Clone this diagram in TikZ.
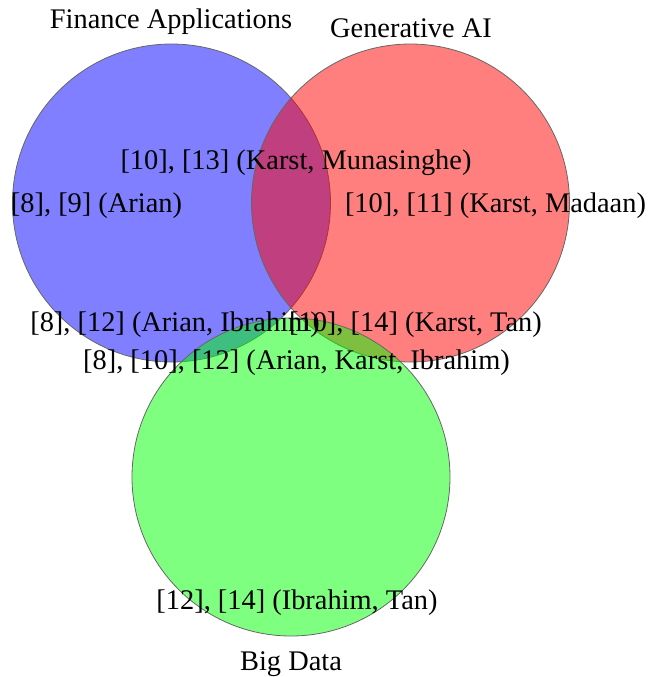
\documentclass[tikz,border=0pt]{standalone}
\usepackage{fontspec}
\setmainfont{Liberation Serif}
\usepackage{tikz}
\colorlet{setblue}{blue}
\colorlet{setred}{red}
\colorlet{setgreen}{green}

\begin{document}
\begin{tikzpicture}[x=0.5pt, y=-0.5pt,
		vset/.style = {fill opacity=0.5, draw=black!60, line width=0.4pt},
		lab/.style = {font=\fontsize{14.2}{16}\selectfont, inner sep=0pt}]
		\useasboundingbox (0,0) rectangle (649,677);
		% the three sets
		\filldraw[vset, fill=setblue] (171.5,203) circle (159);
		\filldraw[vset, fill=setred] (410.5,203) circle (159);
		\filldraw[vset, fill=setgreen] (291,477) circle (159);
		% set titles
		\node[lab] (finance) at (171,22) {Finance Applications};
		\node[lab] (genai) at (411,28) {Generative AI};
		\node[lab] (bigdata) at (291,664) {Big Data};
		% region labels
		\node[lab] (fa) at (96.5,206) {[8], [9] (Arian)};
		\node[lab] (ga) at (495.5,206) {[10], [11] (Karst, Madaan)};
		\node[lab] (fg) at (296,163) {[10], [13] (Karst, Munasinghe)};
		\node[lab] (fb) at (175,325) {[8], [12] (Arian, Ibrahim)};
		\node[lab] (gb) at (415.5,325) {[10], [14] (Karst, Tan)};
		\node[lab] (fgb) at (296.5,363) {[8], [10], [12] (Arian, Karst, Ibrahim)};
		\node[lab] (bd) at (297,603) {[12], [14] (Ibrahim, Tan)};
	\end{tikzpicture}
\end{document}
